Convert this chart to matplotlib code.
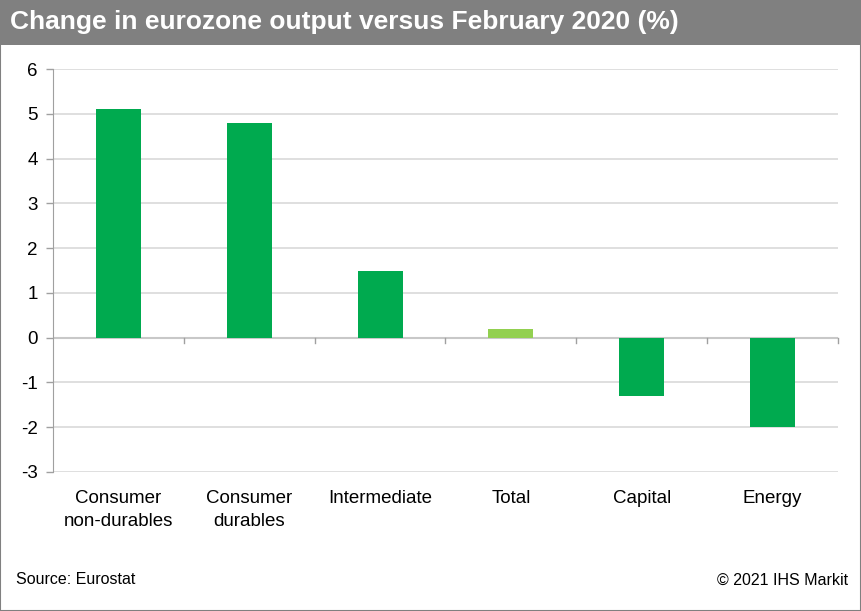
import matplotlib
matplotlib.use("Agg")
import matplotlib.pyplot as plt
from matplotlib.patches import Rectangle

categories = ["Consumer\nnon-durables", "Consumer\ndurables", "Intermediate", "Total", "Capital", "Energy"]
values = [5.1, 4.8, 1.5, 0.2, -1.3, -2.0]
highlight = "Total"
yticks = [-3, -2, -1, 0, 1, 2, 3, 4, 5, 6]

plt.rcParams['font.family'] = ['Liberation Sans', 'DejaVu Sans']

fig = plt.figure(figsize=(8.62, 6.11), dpi=100)
W, H = 862, 611

# header band and outer frame
fig.patches.append(Rectangle((0, 1 - 45 / H), 1, 45 / H, transform=fig.transFigure,
                             facecolor="#808080", edgecolor="none", zorder=0))
fig.patches.append(Rectangle((0.5 / W, 0.5 / H), 1 - 1.5 / W, 1 - 1.5 / H, transform=fig.transFigure,
                             facecolor="none", edgecolor="#808080", linewidth=1.5, zorder=5))
fig.text(10 / W, 1 - 22 / H, "Change in eurozone output versus February 2020 (%)",
         color="white", fontsize=19, fontweight="bold", va="center", ha="left")

ax = fig.add_axes([53 / W, 1 - 472 / H, (838 - 53) / W, (472 - 69) / H])
x = range(len(categories))
colors = ["#92D050" if c == highlight else "#00AA4F" for c in categories]
ax.bar(x, values, width=0.345, color=colors, zorder=3)

ax.set_xlim(-0.5, len(categories) - 0.5)
ax.set_ylim(-3, 6)
ax.set_yticks(yticks)
ax.set_yticklabels([str(t) for t in yticks], fontsize=13.5)
ax.grid(axis="y", color="#D9D9D9", linewidth=1.2, zorder=0)
ax.tick_params(axis="y", length=5, color="#A0A0A0", width=1, pad=6)

for s in ["top", "right", "bottom"]:
    ax.spines[s].set_visible(False)
ax.spines["left"].set_color("#A0A0A0")

# zero line with category boundary ticks
ax.axhline(0, color="#C8C8C8", linewidth=1.5, zorder=2)
ax.set_xticks([])
for b in range(1, len(categories) + 1):
    ax.plot([b - 0.5, b - 0.5], [0, -0.12], color="#A0A0A0", linewidth=1, zorder=2, clip_on=False)

for i, c in enumerate(categories):
    ax.text(i, -3.40, c, ha="center", va="top", fontsize=13.5, linespacing=1.5)

fig.text(16 / W, 1 - 580 / H, "Source: Eurostat", fontsize=11.5, va="center", ha="left")
fig.text(848 / W, 1 - 580 / H, "\u00a9 2021 IHS Markit", fontsize=11.5, va="center", ha="right")

fig.savefig("out.png", dpi=100)
